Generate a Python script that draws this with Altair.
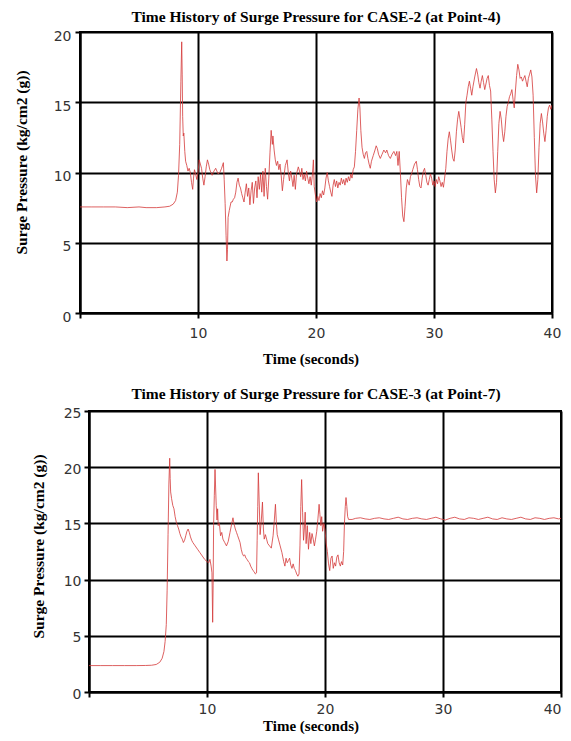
import altair as alt
import pandas as pd

# ---------------- data ----------------
TOP_T = [0, 1, 2, 3, 4, 5, 5.6, 6.5, 7.2, 7.6, 7.9, 8.1, 8.25, 8.35, 8.45, 8.55, 8.62, 8.66, 8.7, 8.75,
         8.8, 8.88, 8.95, 9.05, 9.15, 9.25, 9.35, 9.45, 9.55, 9.62, 9.7, 9.8, 9.9, 10.0, 10.1, 10.2, 10.3, 10.4, 10.5, 10.6,
         10.7, 10.8, 10.9, 11.0, 11.1, 11.2, 11.35, 11.5, 11.6, 11.7, 11.85, 12.0, 12.15, 12.22, 12.3, 12.38, 12.45, 12.5, 12.55, 12.65,
         12.8, 12.9, 13.0, 13.1, 13.2, 13.3, 13.4, 13.5, 13.6, 13.7, 13.8, 13.9, 14.0, 14.1, 14.2, 14.3, 14.4, 14.5, 14.6, 14.7,
         14.8, 14.9, 15.0, 15.1, 15.2, 15.3, 15.4, 15.5, 15.6, 15.7, 15.8, 15.9, 16.0, 16.1, 16.2, 16.3, 16.35, 16.45, 16.55, 16.65,
         16.75, 16.85, 16.95, 17.05, 17.15, 17.25, 17.4, 17.55, 17.65, 17.75, 17.85, 17.95, 18.05, 18.15, 18.25, 18.35, 18.5, 18.6, 18.7, 18.8,
         18.9, 19.0, 19.1, 19.2, 19.3, 19.4, 19.5, 19.6, 19.7, 19.78, 19.85, 19.95, 20.05, 20.15, 20.25, 20.35, 20.45, 20.55, 20.65, 20.75,
         20.85, 20.95, 21.05, 21.15, 21.25, 21.35, 21.45, 21.55, 21.65, 21.75, 21.85, 21.95, 22.05, 22.15, 22.25, 22.35, 22.45, 22.55, 22.65, 22.75,
         22.85, 22.95, 23.05, 23.15, 23.25, 23.35, 23.45, 23.55, 23.65, 23.72, 23.8, 23.9, 24.0, 24.1, 24.2, 24.3, 24.4, 24.5, 24.6, 24.7,
         24.85, 25.0, 25.1, 25.2, 25.3, 25.45, 25.6, 25.75, 25.9, 26.0, 26.15, 26.3, 26.45, 26.6, 26.75, 26.85, 26.95, 27.05, 27.15, 27.25,
         27.35, 27.45, 27.55, 27.65, 27.75, 27.9, 28.0, 28.1, 28.2, 28.35, 28.5, 28.6, 28.7, 28.8, 28.9, 29.0, 29.1, 29.2, 29.3, 29.4,
         29.5, 29.6, 29.7, 29.8, 29.9, 30.0, 30.1, 30.2, 30.3, 30.4, 30.5, 30.6, 30.7, 30.8, 30.9, 31.0, 31.1, 31.2, 31.3, 31.4,
         31.5, 31.6, 31.7, 31.8, 31.9, 32.0, 32.1, 32.2, 32.3, 32.4, 32.5, 32.6, 32.7, 32.8, 32.9, 33.0, 33.1, 33.2, 33.3, 33.45,
         33.6, 33.7, 33.8, 33.9, 34.0, 34.1, 34.2, 34.3, 34.4, 34.5, 34.6, 34.7, 34.8, 34.9, 35.0, 35.1, 35.2, 35.3, 35.4, 35.5,
         35.6, 35.7, 35.8, 35.9, 36.0, 36.1, 36.2, 36.3, 36.4, 36.5, 36.6, 36.7, 36.8, 36.9, 37.0, 37.1, 37.2, 37.3, 37.4, 37.5,
         37.6, 37.7, 37.8, 37.9, 38.0, 38.1, 38.2, 38.3, 38.4, 38.5, 38.6, 38.7, 38.8, 38.9, 39.0, 39.1, 39.2, 39.3, 39.4, 39.5,
         39.6, 39.7, 39.8, 39.9, 40.0]
TOP_V = [7.55, 7.55, 7.55, 7.55, 7.5, 7.55, 7.5, 7.5, 7.55, 7.6, 7.75, 8.0, 8.6, 9.8, 12.0, 16.5, 19.3, 17.0, 14.0, 12.6,
         12.8, 11.5, 10.8, 10.5, 10.1, 10.3, 10.0, 9.3, 8.8, 9.6, 10.2, 9.9, 9.5, 10.0, 10.9, 10.6, 10.3, 9.6, 9.1, 9.7,
         10.4, 10.9, 10.6, 10.2, 10.0, 9.8, 10.1, 10.3, 10.1, 9.9, 10.0, 10.3, 10.7, 9.5, 7.8, 5.5, 3.7, 4.5, 6.8, 7.3,
         7.9, 7.9, 8.1, 8.2, 8.6, 9.3, 9.6, 9.1, 8.9, 8.5, 8.2, 7.9, 8.6, 9.2, 8.3, 8.9, 7.7, 8.7, 9.3, 7.8,
         8.9, 9.4, 8.2, 9.7, 8.8, 9.9, 8.6, 10.1, 8.3, 10.3, 9.0, 8.1, 9.6, 11.4, 13.0, 12.0, 12.6, 11.6, 10.9, 10.5,
         10.8, 10.2, 10.6, 9.8, 8.7, 9.5, 10.5, 10.9, 10.0, 9.4, 10.1, 9.6, 9.0, 9.8, 8.8, 9.9, 10.4, 10.1, 9.7, 10.3,
         9.5, 9.9, 9.4, 10.1, 9.6, 9.2, 9.7, 9.1, 9.9, 10.9, 9.0, 8.4, 7.9, 8.3, 8.0, 8.5, 8.2, 8.7, 8.4, 8.9,
         9.6, 10.0, 9.4, 9.0, 8.6, 8.3, 9.1, 9.5, 9.0, 9.4, 8.9, 9.3, 9.1, 9.6, 9.2, 9.5, 9.1, 9.6, 9.3, 9.7,
         9.4, 9.9, 9.6, 10.2, 10.4, 11.5, 13.0, 14.5, 15.3, 14.6, 13.0, 11.8, 11.3, 11.0, 11.4, 11.5, 11.0, 10.6, 10.3, 10.8,
         11.2, 11.6, 11.9, 11.7, 11.3, 11.0, 11.3, 11.6, 11.4, 11.6, 11.2, 11.0, 11.3, 11.5, 11.2, 11.5, 10.5, 11.5, 10.0, 8.2,
         6.9, 6.5, 7.6, 8.9, 9.5, 9.1, 9.7, 9.9, 10.2, 10.6, 10.8, 10.2, 9.5, 9.0, 8.9, 9.6, 10.1, 10.3, 9.8, 9.3,
         9.1, 9.5, 9.9, 9.6, 9.1, 9.4, 9.0, 9.5, 9.2, 9.7, 9.4, 9.0, 9.3, 8.95, 9.6, 10.3, 11.5, 12.4, 12.9, 12.3,
         11.6, 11.0, 10.8, 11.6, 12.9, 13.8, 14.35, 13.8, 13.2, 12.5, 12.1, 13.4, 15.0, 15.5, 16.1, 16.5, 16.0, 15.5, 16.1, 16.8,
         17.4, 17.0, 16.4, 16.0, 16.5, 16.9, 16.4, 15.9, 16.3, 16.7, 16.9, 16.2, 15.8, 13.8, 11.5, 9.5, 8.55, 9.3, 11.5, 13.5,
         14.35, 13.8, 12.8, 12.2, 12.9, 14.0, 14.7, 15.0, 15.4, 15.6, 15.9, 15.2, 14.6, 15.8, 16.9, 17.7, 17.3, 16.7, 16.8, 16.5,
         16.7, 16.9, 16.5, 16.1, 16.7, 17.0, 17.3, 16.8, 15.5, 12.5, 9.8, 8.55, 9.5, 11.8, 13.5, 14.2, 13.6, 12.8, 12.2, 13.0,
         14.0, 14.6, 14.8, 14.5, 14.8]

BOT_T = [0, 1, 2, 3, 4, 4.8, 5.3, 5.7, 6.0, 6.2, 6.35, 6.45, 6.55, 6.62, 6.7, 6.77, 6.84, 6.88, 6.92, 7.0,
         7.1, 7.2, 7.3, 7.4, 7.5, 7.6, 7.7, 7.8, 7.9, 8.0, 8.1, 8.2, 8.3, 8.4, 8.5, 8.6, 8.7, 8.8, 9.0, 9.2,
         9.4, 9.6, 9.8, 10.0, 10.15, 10.25, 10.35, 10.42, 10.48, 10.52, 10.56, 10.62, 10.68, 10.72, 10.78, 10.85, 10.9, 10.95, 11.05, 11.15,
         11.25, 11.35, 11.5, 11.65, 11.8, 11.95, 12.1, 12.2, 12.3, 12.4, 12.5, 12.6, 12.7, 12.8, 12.9, 13.0, 13.1, 13.2, 13.3, 13.4,
         13.5, 13.6, 13.7, 13.8, 13.9, 14.0, 14.1, 14.2, 14.25, 14.3, 14.35, 14.42, 14.5, 14.6, 14.7, 14.78, 14.85, 14.95, 15.05, 15.15,
         15.3, 15.45, 15.6, 15.7, 15.8, 15.88, 15.95, 16.05, 16.2, 16.35, 16.5, 16.6, 16.7, 16.8, 16.9, 17.0, 17.1, 17.2, 17.3, 17.4,
         17.5, 17.6, 17.7, 17.8, 17.88, 17.95, 18.02, 18.1, 18.18, 18.25, 18.32, 18.4, 18.5, 18.6, 18.7, 18.8, 18.9, 19.0, 19.1, 19.2,
         19.3, 19.4, 19.5, 19.57, 19.65, 19.72, 19.8, 19.9, 20.0, 20.1, 20.2, 20.3, 20.4, 20.5, 20.6, 20.7, 20.8, 20.9, 21.0, 21.1,
         21.2, 21.3, 21.4, 21.5, 21.58, 21.65, 21.72, 21.78, 21.85, 21.92, 22.0, 22.3, 22.6, 23.0, 23.4, 23.8, 24.2, 24.6, 25.0, 25.4,
         25.8, 26.2, 26.6, 27.0, 27.4, 27.8, 28.2, 28.6, 29.0, 29.4, 29.8, 30.2, 30.6, 31.0, 31.4, 31.8, 32.2, 32.6, 33.0, 33.4,
         33.8, 34.2, 34.6, 35.0, 35.4, 35.8, 36.2, 36.6, 37.0, 37.4, 37.8, 38.2, 38.6, 39.0, 39.4, 39.8, 40.0]
BOT_V = [2.35, 2.35, 2.35, 2.35, 2.35, 2.36, 2.38, 2.45, 2.65, 3.0, 3.6, 4.5, 6.0, 9.0, 14.0, 18.5, 20.8, 19.0, 17.8, 17.2,
         16.6, 16.3, 15.6, 15.1, 14.8, 14.5, 14.1, 13.8, 13.6, 13.3, 13.5, 13.9, 14.3, 14.5, 14.2, 13.8, 13.5, 13.3, 13.0, 12.7,
         12.4, 12.1, 11.8, 11.6, 11.5, 11.8, 11.2, 10.6, 6.2, 9.5, 14.8, 17.5, 19.8, 18.5, 16.6, 15.3, 16.3, 14.8, 15.0, 13.9,
         14.2, 13.6, 13.3, 13.0, 13.4, 14.2, 15.0, 15.5, 14.9, 14.5, 14.2, 13.9, 13.6, 13.3, 12.7, 12.3, 12.1, 12.2, 11.9, 11.8,
         11.6, 11.5, 11.2, 11.0, 10.8, 10.7, 10.5, 10.6, 13.5, 16.5, 19.5, 17.0, 14.0, 15.2, 16.9, 14.5, 13.6, 14.0, 13.6, 13.2,
         13.0, 12.8, 13.9, 15.2, 16.7, 15.0, 14.0, 13.6, 13.0, 12.4, 11.6, 11.2, 11.9, 11.5, 11.7, 11.9, 11.3, 11.0, 11.4, 11.0,
         10.8, 10.5, 10.3, 10.5, 13.0, 16.5, 18.9, 16.0, 13.5, 14.5, 16.0, 13.2, 14.8, 12.7, 14.2, 13.2, 14.1, 13.6, 13.0, 13.6,
         14.3, 15.4, 16.7, 15.8, 14.8, 15.6, 14.3, 15.0, 14.4, 13.2, 12.5, 11.4, 10.8, 11.9, 12.1, 11.0, 11.5, 11.2, 12.0, 12.2,
         11.5, 11.2, 11.6, 11.3, 12.5, 15.1, 16.5, 17.3, 16.5, 15.6, 15.35, 15.35, 15.45, 15.5, 15.4, 15.35, 15.45, 15.5, 15.4, 15.35,
         15.45, 15.55, 15.4, 15.35, 15.45, 15.5, 15.4, 15.35, 15.45, 15.55, 15.4, 15.3, 15.45, 15.55, 15.4, 15.35, 15.5, 15.45, 15.35, 15.45,
         15.55, 15.4, 15.35, 15.5, 15.4, 15.35, 15.45, 15.55, 15.4, 15.35, 15.5, 15.45, 15.35, 15.45, 15.5, 15.4, 15.45]

X_TICKS = [0, 10, 20, 30, 40]
TOP_Y_TICKS = [0, 5, 10, 15, 20]
BOT_Y_TICKS = [0, 5, 10, 15, 20, 25]

TOP_TITLE = "Time History of Surge Pressure for CASE-2 (at Point-4)"
BOT_TITLE = "Time History of Surge Pressure for CASE-3 (at Point-7)"
X_TITLE = "Time (seconds)"
Y_TITLE = "Surge Pressure (kg/cm2 (g))"

LABEL_FONT = "DejaVu Sans"
TITLE_FONT = "Liberation Serif"
LINE_COLOR = "#d43a3a"


def panel(t, v, title, ymax, yticks, title_dx, x_title_x, y_title_y, y_title_pad, y_label_pad, y_label_off,
          x_label_pad, x_title_pad, x_label_off, x_flush):
    df = pd.DataFrame({"t": t, "v": v})
    x_axis = alt.Axis(
        values=X_TICKS, grid=True, gridColor="black", gridWidth=2, gridOpacity=1,
        domainColor="black", domainWidth=2, tickColor="black", tickWidth=2, tickSize=5,
        labelExpr="datum.value == 0 ? '' : datum.label",
        labelFont=LABEL_FONT, labelFontSize=14, labelColor="#333333", labelPadding=x_label_pad,
        labelOffset=x_label_off, labelFlush=x_flush, labelOverlap=False,
        title=X_TITLE, titleFont=TITLE_FONT, titleFontSize=15, titleFontWeight="bold",
        titleColor="black", titlePadding=x_title_pad, titleX=x_title_x,
    )
    y_axis = alt.Axis(
        values=yticks, grid=True, gridColor="black", gridWidth=2, gridOpacity=1,
        domainColor="black", domainWidth=2, tickColor="black", tickWidth=2, tickSize=5,
        labelFont=LABEL_FONT, labelFontSize=14, labelColor="#333333", labelPadding=y_label_pad,
        labelOffset=y_label_off, labelOverlap=False, labelFlush=False,
        title=Y_TITLE, titleFont=TITLE_FONT, titleFontSize=15.5, titleFontWeight="bold",
        titleColor="black", titlePadding=y_title_pad, titleY=y_title_y,
    )
    return alt.Chart(df).mark_line(
        color=LINE_COLOR, strokeWidth=1, opacity=0.8, clip=True
    ).encode(
        x=alt.X("t:Q", scale=alt.Scale(domain=[0, 40], nice=False, zero=False), axis=x_axis),
        y=alt.Y("v:Q", scale=alt.Scale(domain=[0, ymax], nice=False), axis=y_axis),
        order="t:Q",
    ).properties(
        width=472, height=281,
        title=alt.TitleParams(text=title, font=TITLE_FONT, fontSize=15.5, fontWeight="bold",
                              color="black", offset=4, dx=title_dx, anchor="middle"),
    )


def spacer(w):
    return alt.Chart(pd.DataFrame({"a": [0]})).mark_point(opacity=0, size=0).encode(
        x=alt.value(0), y=alt.value(0)
    ).properties(width=w, height=281, view=alt.ViewBackground(stroke="transparent"))


top = panel(TOP_T, TOP_V, TOP_TITLE, 20, TOP_Y_TICKS, 0, 230.5, 130, 24, 4, 4, 8, 11, 0, False)
bottom = panel(BOT_T, BOT_V, BOT_TITLE, 25, BOT_Y_TICKS, -9, 221.5, 135, 17, 3, 2, 5, 2, 0, True)

chart = alt.vconcat(
    alt.hconcat(spacer(1), top, spacing=0),
    alt.hconcat(spacer(18), bottom, spacing=0),
    spacing=18,
).properties(
    padding={"left": 2, "top": 0, "right": 0, "bottom": 0},
    background="white",
).configure_view(stroke="black", strokeWidth=2)

chart.save("out.html", embed_options={"renderer": "svg", "actions": False})
